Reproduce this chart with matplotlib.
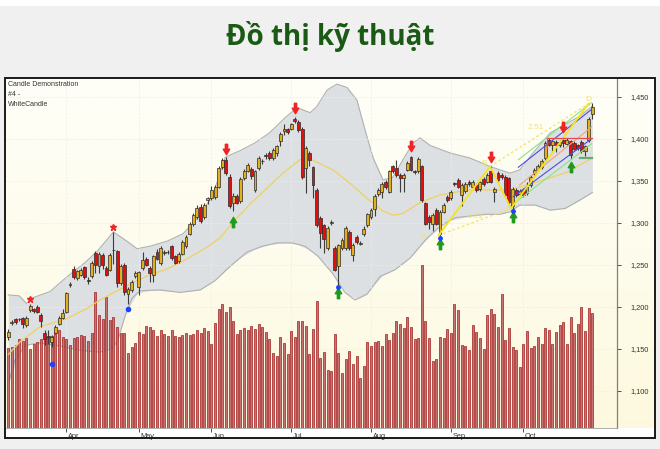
import numpy as np
import matplotlib
matplotlib.use("Agg")
import matplotlib.pyplot as plt
from matplotlib.path import Path
from matplotlib.patches import Rectangle
from matplotlib.transforms import ScaledTranslation

plt.rcParams['font.family'] = ['Liberation Sans', 'DejaVu Sans']

# ---------------- data ----------------
opens = [1164, 1181, 1185, 1185.5, 1186, 1178, 1196, 1197, 1200, 1190,
         1169, 1165, 1158, 1169, 1180, 1187, 1194, 1226, 1245, 1234,
         1238, 1247, 1232, 1236, 1264, 1248, 1262, 1246, 1244, 1268,
         1266, 1228, 1250, 1215, 1220, 1236, 1223, 1246, 1257, 1246,
         1238, 1265, 1252, 1264, 1265.5, 1272, 1260, 1255, 1263, 1272,
         1287, 1298, 1307, 1319, 1307, 1327, 1329, 1331, 1343, 1366,
         1375, 1355, 1324, 1332, 1326, 1353, 1362, 1364, 1339, 1365,
         1373, 1380, 1383, 1377, 1383, 1397, 1409, 1411, 1412, 1424,
         1420, 1412, 1365, 1383, 1366, 1339, 1306, 1297, 1270, 1300,
         1270, 1248, 1270, 1270, 1289, 1262, 1283, 1275, 1286, 1297,
         1307, 1316, 1334, 1337, 1349, 1337, 1367, 1365, 1357, 1353,
         1363, 1378, 1361, 1361, 1367, 1323, 1307, 1299, 1315, 1287,
         1313, 1331, 1329, 1347, 1351, 1333, 1338, 1349, 1343, 1345,
         1340, 1352, 1349, 1361, 1336, 1359, 1357, 1355, 1353, 1320,
         1339, 1334, 1339, 1335, 1345, 1358, 1363, 1366, 1377, 1399,
         1393, 1396, 1392, 1398, 1394, 1397, 1395, 1392, 1396, 1385,
         1398, 1430]
closes = [1170, 1181.5, 1182, 1185, 1179, 1187, 1201, 1195, 1194, 1183,
          1162, 1164, 1164, 1176, 1187, 1192, 1216, 1226.5, 1235, 1242,
          1244, 1235, 1231, 1252, 1250, 1263, 1250, 1238, 1262, 1267,
          1228, 1249, 1217, 1221, 1230, 1240, 1241, 1256, 1250, 1240,
          1260, 1257, 1270, 1264.5, 1265, 1258, 1252, 1263, 1277, 1283,
          1299, 1309, 1318, 1302, 1321, 1329, 1339, 1342, 1365, 1375,
          1359, 1320, 1332, 1324, 1352, 1362, 1369, 1356, 1361, 1377,
          1373.5, 1379.5, 1377, 1387, 1391, 1406, 1412, 1408, 1417, 1421,
          1410, 1355, 1389, 1375, 1345, 1297, 1288, 1281, 1294, 1300.5,
          1244, 1273, 1279, 1294, 1270, 1274, 1277, 1276, 1293, 1310,
          1315, 1332, 1339, 1346, 1342, 1361, 1361, 1357, 1353, 1357,
          1371, 1363, 1360.5, 1376, 1327, 1299, 1301, 1309, 1299, 1313,
          1321, 1327, 1337, 1346.5, 1343, 1345, 1346, 1346, 1349, 1339,
          1348, 1346, 1357, 1349, 1340, 1351, 1354, 1333, 1325, 1340,
          1333, 1338, 1333, 1342, 1355, 1363, 1368, 1374, 1395, 1393,
          1397, 1392, 1396, 1395, 1398, 1381, 1388, 1389, 1385, 1391,
          1424, 1438]
highs = [1173, 1184, 1187, 1187, 1188, 1189, 1203, 1199, 1202, 1193,
         1172, 1172, 1166, 1178, 1189, 1197, 1218, 1229, 1248, 1244,
         1246, 1249, 1235, 1254, 1266, 1265, 1264, 1249, 1264, 1289,
         1268, 1251, 1252, 1224, 1232, 1243, 1243, 1265, 1259, 1249,
         1262, 1269, 1272, 1267, 1267, 1274, 1262, 1265, 1279, 1285,
         1301, 1311, 1321, 1322, 1323, 1331, 1344, 1345, 1367, 1377,
         1378, 1358, 1335, 1334, 1354, 1364, 1371, 1366, 1363, 1379,
         1376, 1383, 1385, 1389, 1393, 1408, 1418, 1413, 1419, 1426,
         1422, 1414, 1391, 1385, 1368, 1341, 1308, 1299, 1296, 1303,
         1272, 1275, 1282, 1296, 1291, 1276, 1285, 1278, 1296, 1312,
         1317, 1334, 1341, 1348, 1351, 1363, 1369, 1375, 1359, 1359,
         1373, 1380, 1363, 1378, 1369, 1325, 1309, 1311, 1317, 1315,
         1323, 1333, 1339, 1349, 1353, 1347, 1348, 1351, 1351, 1347,
         1350, 1354, 1359, 1367, 1342, 1361, 1359, 1357, 1355, 1342,
         1341, 1340, 1341, 1349, 1357, 1365, 1370, 1376, 1397, 1401,
         1399, 1398, 1398, 1400, 1401, 1399, 1397, 1394, 1398, 1393,
         1426, 1442]
lows = [1160, 1178, 1180, 1183, 1175, 1176, 1194, 1193, 1192, 1176,
        1155, 1156, 1152, 1167, 1178, 1185, 1192, 1223, 1233, 1232,
        1236, 1233, 1227, 1234, 1240, 1240, 1245, 1236, 1242, 1251,
        1224, 1226, 1214, 1203, 1218, 1234, 1214, 1244, 1248, 1230,
        1230, 1256, 1250, 1261, 1263, 1256, 1251, 1252, 1261, 1270,
        1285, 1296, 1305, 1300, 1305, 1322, 1327, 1328, 1341, 1364,
        1357, 1318, 1314, 1322, 1324, 1351, 1360, 1352, 1336, 1363,
        1370, 1376, 1375, 1375, 1379, 1391, 1405, 1406, 1410, 1419,
        1408, 1352, 1335, 1368, 1330, 1295, 1270, 1264, 1268, 1297,
        1242, 1226, 1267, 1268, 1268, 1255, 1275, 1273, 1284, 1295,
        1305, 1308, 1332, 1329, 1340, 1335, 1359, 1355, 1337, 1337,
        1361, 1361, 1358, 1359, 1325, 1297, 1293, 1290, 1297, 1283,
        1311, 1325, 1327, 1344, 1341, 1320, 1335, 1344, 1341, 1337,
        1338, 1344, 1347, 1347, 1325, 1349, 1352, 1331, 1320, 1316,
        1331, 1332, 1331, 1333, 1343, 1356, 1361, 1364, 1375, 1391,
        1385, 1384, 1390, 1390, 1392, 1376, 1386, 1386, 1383, 1379,
        1396, 1424]
volumes = [79.7, 81.3, 83, 88.7, 87.3, 89.7, 79, 84, 86.3, 88.7,
           90.7, 91.3, 92, 96.3, 98, 90.7, 88.7, 83, 89.7, 91.3,
           93, 92, 87.3, 94.7, 136.3, 113, 108.7, 131.3, 108, 110.7,
           101.3, 95.3, 94.7, 75.3, 81.3, 85.3, 96.3, 94, 102, 100.7,
           98, 92, 98, 94, 92, 98, 92, 90.7, 93, 95.3,
           93, 94, 98, 94.7, 99.7, 97, 83.7, 105.3, 119, 123.7,
           116.3, 121.3, 107, 93.7, 98, 99.7, 98, 102.3, 99, 103.7,
           101.3, 96.3, 89, 74.7, 72, 90.7, 84.7, 74, 97, 90.7,
           107.3, 107.3, 102, 73.7, 98.7, 127, 69.7, 75.7, 58, 57.3,
           93.7, 74.7, 54.7, 68.7, 77, 64, 72, 49.7, 62, 85.7,
           82, 85.7, 87, 82, 94, 88, 94.7, 107, 104, 99.7,
           111, 101.5, 89.5, 90.5, 163, 107, 89.7, 67.3, 69, 91.3,
           89.7, 98.7, 94.7, 124, 118, 83, 82.3, 78, 103, 96.3,
           89.7, 79, 113, 118.7, 113.7, 100.7, 134, 88, 100.3, 81.3,
           78, 60.7, 83.7, 97.3, 79.7, 82.3, 90.7, 83.7, 99.7, 98,
           84, 95.7, 103, 105.7, 84, 111.3, 94.7, 104, 120.7, 97.3,
           119.7, 114.7]

# Bollinger band and moving average, sampled along the series
band_idx = [0, 3, 5, 7, 11.5, 16, 21, 24.5, 29, 32.7, 35.5, 39, 43.8, 48.2,
            52.9, 56.4, 59.8, 64, 68, 72, 76.3, 79.6, 83.2, 85, 87.9, 90.6,
            93.4, 96.1, 98.9, 100.6, 103.3, 106, 108.8, 111.6, 113.5, 116.3,
            121.8, 127.3, 132.8, 138.3, 141, 145.2, 149.4, 153.5, 157.6, 161]
band_upper = [1214, 1213, 1204, 1211, 1218, 1235, 1252, 1266, 1289, 1278,
              1269, 1272, 1278, 1287, 1309, 1333, 1378, 1386, 1395, 1407,
              1425, 1437, 1431, 1438, 1458, 1465, 1461, 1446, 1402, 1377,
              1351, 1354, 1375, 1395, 1401, 1392, 1383, 1377, 1367, 1359,
              1363, 1386, 1407, 1417, 1427, 1439]
low_idx = [0, 1.8, 4.6, 8.7, 14.3, 19.8, 25.3, 28.6, 30.2, 32.2, 34.1, 36.3,
           41.8, 47.3, 52.9, 57, 61.1, 65.8, 70, 74.1, 78.2, 81.8, 85.4, 89.5,
           92.8, 95.6, 98.9, 102.5, 106.6, 110.8, 114.9, 119, 123.2, 127.3,
           131.4, 135.6, 138.3, 141, 145.2, 149.4, 153.5, 157.6, 161]
band_lower = [1108, 1136, 1154, 1157, 1153, 1148, 1146, 1150, 1160, 1189,
              1210, 1219, 1220, 1217, 1220, 1231, 1248, 1265, 1272, 1276,
              1276, 1272, 1260, 1239, 1217, 1208, 1215, 1236, 1244, 1258,
              1279, 1296, 1306, 1308, 1310, 1310, 1313, 1321, 1321, 1315,
              1317, 1327, 1336]
ma_idx = [0, 3.2, 8.7, 16.2, 21.7, 25.3, 30, 34.4, 39.1, 43.8, 49.3, 54.8,
          58.4, 62, 66.6, 71.3, 75.7, 80.4, 83.2, 89.5, 94.2, 98.9, 103.3,
          106, 108.8, 113.5, 119, 126.5, 133.6, 138.3, 143, 147.4, 154,
          157.6, 161]
ma_vals = [1143, 1158, 1176, 1186, 1198, 1208, 1219, 1229, 1238, 1245,
           1257, 1271, 1282, 1301, 1322, 1341, 1359, 1375, 1376, 1363,
           1347, 1329, 1314, 1309, 1311, 1324, 1333, 1339, 1339, 1339,
           1345, 1351, 1360, 1369, 1377]

# signal markers
sell_idx = [60, 79, 111, 133, 153]
sell_y = [1388, 1436, 1391, 1378, 1414]
buy_idx = [62, 91, 119, 139, 155]
buy_y = [1301, 1216, 1275, 1307, 1366]
buy_dot_idx = [91, 119, 139]
buy_dot_y = [1223, 1282, 1314]
blue_idx = [12, 33]
blue_y = [1132, 1197]
star_idx = [6, 29]
star_y = [1209, 1295]

# harmonic pattern A-B-C-D and channel
abcd_idx = [118.6, 132.8, 138.6, 160]
abcd_y = [1285, 1367, 1317, 1442]
abcd_names = ['A', 'B', 'C', 'D']
ratio_names = ['0.61', '2.51']
chan_idx = [[140.6, 160.8], [140.6, 160.8], [141, 160.8], [139.2, 160.8], [139.7, 160.8]]
chan_y = [[1375, 1443], [1366, 1435], [1345, 1414], [1331, 1400], [1324, 1394]]
chan_col = ['#86e586', '#4b4be6', '#f2a27c', '#4b4be6', '#86e586']
resist_idx = [148.4, 160.8]
resist_y = 1400.5
support_idx = [157.6, 161]
support_y = 1376.5

month_idx = [16, 36, 56, 78, 100, 122, 142]
month_names = ['Apr', 'May', 'Jun', 'Jul', 'Aug', 'Sep', 'Oct']
price_ticks = [1100, 1150, 1200, 1250, 1300, 1350, 1400, 1450]

# ---------------- figure ----------------
W, H = 660, 449
fig = plt.figure(figsize=(W / 100, H / 100), dpi=100)
fig.patch.set_facecolor('#f0f0f0')
fig.patches.append(Rectangle((0, 1 - 6 / H), 1, 6 / H, transform=fig.transFigure,
                             fc='white', ec='none', zorder=0))

fig.text(0.5, 1 - 37 / H, 'Đồ thị kỹ thuật', fontsize=20, fontweight='bold',
         color='#1b5a14', family=['Open Sans', 'DejaVu Sans'], ha='center', va='center')

# gradient background of the chart panel
bg = fig.add_axes([4 / W, 21 / H, 651 / W, 350 / H], zorder=0)
grad = np.linspace(0, 1, 100)[:, None]
top_c = np.array([1.0, 1.0, 0.975])
bot_c = np.array([0.992, 0.976, 0.875])
img = top_c[None, None, :] * (1 - grad[:, :, None]) + bot_c[None, None, :] * grad[:, :, None]
bg.imshow(img, aspect='auto', extent=[0, 1, 0, 1])
bg.axis('off')
fig.patches.append(Rectangle((4 / W, 12 / H), 651 / W, 9 / H, transform=fig.transFigure,
                             fc='white', ec='none', zorder=0.5))

ax = fig.add_axes([6 / W, 21 / H, 611 / W, 350 / H])
vax = ax.twinx()
ax.set_zorder(3)
vax.set_zorder(2)
ax.patch.set_visible(False)
vax.patch.set_visible(False)

x = np.arange(len(closes))
ax.set_xlim(-0.63, 167.8)
ax.set_ylim(1055.6, 1472.3)
vax.set_ylim(0, 350)

# band, grid and volume on the lower layer
vax.fill_between(band_idx, np.interp(band_idx, low_idx, band_lower), band_upper,
                 color='#dce0e3', lw=0, transform=ax.transData, zorder=1)
vax.plot(band_idx, band_upper, color='#b0b0b0', lw=0.8, transform=ax.transData, zorder=1.1)
vax.plot(low_idx, band_lower, color='#b0b0b0', lw=0.8, transform=ax.transData, zorder=1.1)
vax.hlines(price_ticks, -0.63, 167.8, colors='#ececec', lw=0.6, linestyles=(0, (2, 2)),
           transform=ax.transData, zorder=1.5)
vax.vlines(month_idx, 0, 350, colors='#ececec', lw=0.6, linestyles=(0, (2, 2)), zorder=1.5)
vax.bar(x, volumes, width=0.55, color='#c97272', edgecolor='#a02020', lw=0.5, zorder=2)

# moving average
ax.plot(ma_idx, ma_vals, color='#f0d060', lw=0.9, zorder=2)

# candles
o = np.array(opens)
c = np.array(closes)
up = c >= o
ax.vlines(x, lows, highs, color='#3c3c3c', lw=0.8, zorder=3)
body = np.maximum(np.abs(c - o), 0.7)
ax.bar(x, body, bottom=np.minimum(o, c), width=0.8,
       color=np.where(up, '#e2b01e', '#e01010'), edgecolor='#2a2a2a', lw=0.5, zorder=4)

# pattern overlays
for ci, cy, col in zip(chan_idx, chan_y, chan_col):
    ax.plot(ci, cy, color=col, lw=0.8, zorder=5)
ax.plot(abcd_idx, abcd_y, color='#f4e41c', lw=1.3, zorder=5)
ax.plot([abcd_idx[0], abcd_idx[2]], [abcd_y[0], abcd_y[2]], color='#f4e25a', lw=0.9,
        ls=(0, (2, 2)), zorder=5)
ax.plot([abcd_idx[1], abcd_idx[3]], [abcd_y[1], abcd_y[3]], color='#f4e25a', lw=0.9,
        ls=(0, (2, 2)), zorder=5)
ax.plot(resist_idx, [resist_y, resist_y], color='#e84a4a', lw=0.9, zorder=5)
ax.plot([resist_idx[0], resist_idx[0]], [resist_y, resist_y - 11], color='#e84a4a', lw=0.9, zorder=5)
ax.plot(support_idx, [support_y, support_y], color='#6aaa6a', lw=1.6, zorder=5)

lbl_off = [(-4, -1), (-1.5, 3), (-1, -2), (0, 5)]
for xi, yi, name, (dx, dy) in zip(abcd_idx, abcd_y, abcd_names, lbl_off):
    ax.text(xi + dx, yi + dy, name, color='#ede27a', fontsize=6, ha='center', va='center', zorder=6)
ax.text((abcd_idx[0] + abcd_idx[2]) / 2, (abcd_y[0] + abcd_y[2]) / 2 + 6, ratio_names[0],
        color='#ede27a', fontsize=6, ha='center', va='center', zorder=6)
ax.text((abcd_idx[1] + abcd_idx[3]) / 2 - 1, (abcd_y[1] + abcd_y[3]) / 2 + 9, ratio_names[1],
        color='#ede27a', fontsize=6, ha='center', va='center', zorder=6)

# markers
down_arrow = Path([(-0.22, 1), (0.22, 1), (0.22, 0.05), (0.62, 0.05), (0, -1),
                   (-0.62, 0.05), (-0.22, 0.05), (-0.22, 1)], closed=True)
up_arrow = Path([(-0.22, -1), (0.22, -1), (0.22, -0.05), (0.62, -0.05), (0, 1),
                 (-0.62, -0.05), (-0.22, -0.05), (-0.22, -1)], closed=True)
ax.plot(sell_idx, sell_y, ls='none', marker=down_arrow, ms=7.5, color='#f02424', zorder=7)
ax.plot(buy_idx, buy_y, ls='none', marker=up_arrow, ms=7.5, color='#1f9a1f', zorder=7)
ax.plot(buy_dot_idx, buy_dot_y, ls='none', marker='o', ms=2.5, color='#2040ff', zorder=7)
ax.plot(blue_idx, blue_y, ls='none', marker='o', ms=3, color='#2040ff', zorder=7)
ax.plot(star_idx, star_y, ls='none', marker='*', ms=5, color='#f02424', zorder=7)

# axes styling
ax.yaxis.tick_right()
ax.set_yticks(price_ticks)
ax.set_yticklabels([f'{v:,}' for v in price_ticks])
ax.tick_params(axis='y', length=3, pad=7, labelsize=5.3, colors='#333333', width=0.6)
ax.set_xticks(month_idx)
ax.set_xticklabels(month_names, ha='left')
ax.tick_params(axis='x', length=3, pad=0.5, labelsize=5.3, colors='#333333', width=0.6)
shift = ScaledTranslation(1.5 / 100, 0, fig.dpi_scale_trans)
for t in ax.get_xticklabels():
    t.set_transform(t.get_transform() + shift)
vax.set_yticks([])
for s in ['top', 'left']:
    ax.spines[s].set_visible(False)
ax.spines['right'].set_color('#808080')
ax.spines['right'].set_linewidth(0.9)
ax.spines['bottom'].set_color('#a0a0a0')
ax.spines['bottom'].set_linewidth(0.6)
for s in vax.spines.values():
    s.set_visible(False)

fig.text(8 / W, 1 - 85 / H, 'Candle Demonstration', fontsize=5, color='#333333', va='center')
fig.text(8 / W, 1 - 94.5 / H, '#4 -', fontsize=5, color='#333333', va='center')
fig.text(8 / W, 1 - 104 / H, 'WhiteCandle', fontsize=5, color='#333333', va='center')

# outer frame
fig.patches.append(Rectangle((4.5 / W, 11.5 / H), 650 / W, 360 / H, transform=fig.transFigure,
                             fill=False, ec='#1a1a1a', lw=1.4, zorder=10))

fig.savefig('out.png', dpi=100)
